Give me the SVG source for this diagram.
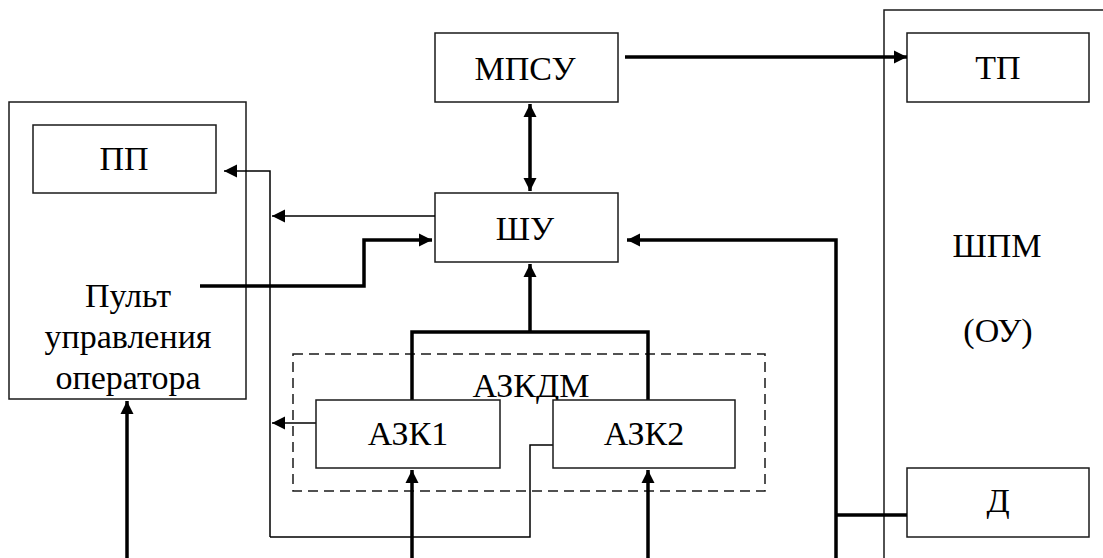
<svg xmlns="http://www.w3.org/2000/svg" width="1103" height="558" viewBox="0 0 1103 558">
<style>
.box{fill:#fff;stroke:#1a1a1a;stroke-width:1.5}
.outer{fill:none;stroke:#1a1a1a;stroke-width:1.5}
.dash{fill:none;stroke:#1a1a1a;stroke-width:1.5;stroke-dasharray:10 6}
.thin{fill:none;stroke:#000;stroke-width:1.5}
.thick{fill:none;stroke:#000;stroke-width:3.5}
</style>
<defs>
<marker id="ah" markerUnits="userSpaceOnUse" markerWidth="14" markerHeight="14" refX="13" refY="7" orient="auto-start-reverse" viewBox="0 0 14 14">
<path d="M0,0.5 L13,7 L0,13.5 z" fill="#000"/>
</marker>
</defs>
<rect width="1103" height="558" fill="#fff"/>
<g font-family="Liberation Serif, Times New Roman, Times, serif" font-size="34" fill="#000" text-anchor="middle">
<g id="pult">
<rect class="outer" x="9" y="102" width="237" height="297"/>
<text x="128" y="307">Пульт</text>
<text x="128" y="348">управления</text>
<text x="128" y="389">оператора</text>
</g>
<g id="pp">
<rect class="box" x="33" y="125" width="183" height="68"/>
<text x="124" y="170">ПП</text>
</g>
<g id="shpm">
<rect class="outer" x="884" y="10" width="240" height="560"/>
<text x="997" y="257">ШПМ</text>
<text x="998" y="342">(ОУ)</text>
</g>
<g id="tp">
<rect class="box" x="907" y="33" width="182" height="69"/>
<text x="998" y="79">ТП</text>
</g>
<g id="d">
<rect class="box" x="907" y="468" width="182" height="69"/>
<text x="998" y="512">Д</text>
</g>
<g id="mpsu">
<rect class="box" x="435" y="33" width="183" height="69"/>
<text x="525" y="80">МПСУ</text>
</g>
<g id="shu">
<rect class="box" x="435" y="193" width="183" height="69"/>
<text x="525" y="240">ШУ</text>
</g>
<g id="azkdm">
<rect class="dash" x="293" y="354" width="472" height="137"/>
<text x="531" y="397">АЗКДМ</text>
</g>
<g id="connectors">
<path class="thin" d="M270,537 V171 H224" marker-end="url(#ah)"/>
<path class="thin" d="M435,216 H272" marker-end="url(#ah)"/>
<path class="thin" d="M316,423 H272" marker-end="url(#ah)"/>
<path class="thin" d="M553,445 H530 V537 H270"/>
<path class="thick" d="M200,286 H364 V240 H432" marker-end="url(#ah)"/>
<path class="thick" d="M530,104 V191" marker-start="url(#ah)" marker-end="url(#ah)"/>
<path class="thick" d="M625,57 H907" marker-end="url(#ah)"/>
<path class="thick" d="M836,558 V240 H627" marker-end="url(#ah)"/>
<path class="thick" d="M836,515 H907"/>
<path class="thick" d="M412,400 V332 H648 V400"/>
<path class="thick" d="M530,332 V264" marker-end="url(#ah)"/>
<path class="thick" d="M412,558 V470" marker-end="url(#ah)"/>
<path class="thick" d="M648,558 V470" marker-end="url(#ah)"/>
<path class="thick" d="M127,558 V401" marker-end="url(#ah)"/>
</g>
<g id="azk1">
<rect class="box" x="316" y="400" width="184" height="68"/>
<text x="408" y="445">АЗК1</text>
</g>
<g id="azk2">
<rect class="box" x="553" y="400" width="182" height="68"/>
<text x="644" y="445">АЗК2</text>
</g>
</g>
</svg>
